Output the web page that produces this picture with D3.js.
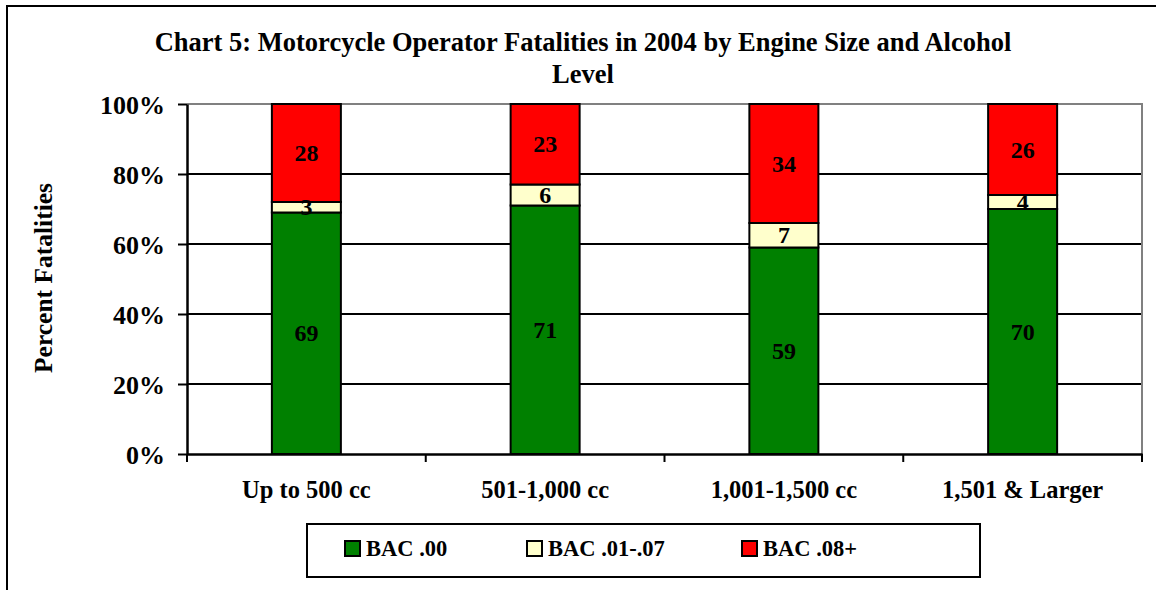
<!DOCTYPE html>
<html><head><meta charset="utf-8">
<script src="https://cdn.jsdelivr.net/npm/d3@7"></script>
<style>body{margin:0;background:#fff;}svg{display:block;font-family:"Liberation Serif","Times New Roman",serif;font-weight:bold;}</style>
</head><body><svg id="c" width="1156" height="590"></svg>
<script>
const categories = ["Up to 500 cc","501-1,000 cc","1,001-1,500 cc","1,501 & Larger"];
const seriesNames = ["BAC .00","BAC .01-.07","BAC .08+"];
const bac00 = [69,71,59,70];
const bac0107 = [3,6,7,4];
const bac08 = [28,23,34,26];
const yTicks = [0,20,40,60,80,100];
const colors = ["#008000","#FFFFCC","#FF0000"];
const titleLines = ["Chart 5: Motorcycle Operator Fatalities in 2004 by Engine Size and Alcohol","Level"];

const svg = d3.select("#c");
svg.append("rect").attr("x",7).attr("y",6).attr("width",1160).attr("height",600)
  .attr("fill","#fff").attr("stroke","#000").attr("stroke-width",2);

const L=187,R=1142,T=104,B=454;
const x = d3.scaleBand().domain(categories).range([L,R]).paddingInner(0).paddingOuter(0);
const y = d3.scaleLinear().domain([0,100]).range([B,T]);
const barW = 69;

// gridlines
svg.append("g").selectAll("line").data(yTicks.filter(d=>d>0&&d<100)).join("line")
  .attr("x1",L).attr("x2",R).attr("y1",d=>y(d)).attr("y2",d=>y(d))
  .attr("stroke","#000").attr("stroke-width",2);
// plot border top/right gray
svg.append("path").attr("d",`M${L},${y(100)}H${R}V${B}`).attr("fill","none")
  .attr("stroke","#808080").attr("stroke-width",2);

// stacked data
const rows = categories.map((c,i)=>({cat:c,s0:bac00[i],s1:bac0107[i],s2:bac08[i]}));
const stack = d3.stack().keys(["s0","s1","s2"])(rows);
const g = svg.append("g");
stack.forEach((layer,k)=>{
  g.selectAll(null).data(layer).join("rect")
    .attr("x",d=>x(d.data.cat)+x.bandwidth()/2-barW/2)
    .attr("width",barW)
    .attr("y",d=>y(d[1]))
    .attr("height",d=>y(d[0])-y(d[1]))
    .attr("fill",colors[k]).attr("stroke","#000").attr("stroke-width",2);
});
stack.forEach((layer,k)=>{
  g.selectAll(null).data(layer).join("text")
    .attr("x",d=>x(d.data.cat)+x.bandwidth()/2)
    .attr("y",d=>(y(d[0])+y(d[1]))/2+8)
    .attr("text-anchor","middle").attr("font-size",24)
    .text(d=>d[1]-d[0]);
});

// y axis
const yAxis = svg.append("g").attr("transform",`translate(${L},0)`)
  .call(d3.axisLeft(y).tickValues(yTicks).tickSize(9).tickSizeOuter(0).tickFormat(d=>d+"%"));
yAxis.attr("font-family",null).attr("font-size",null);
yAxis.select(".domain").attr("stroke","#000").attr("stroke-width",2.5);
yAxis.selectAll(".tick line").attr("stroke","#000").attr("stroke-width",2);
yAxis.selectAll(".tick text").attr("font-size",26).attr("x",-22).attr("dy","0.36em").attr("fill","#000");

// x axis
const xAxis = svg.append("g").attr("transform",`translate(0,${B})`)
  .call(d3.axisBottom(x).tickSize(0).tickSizeOuter(0));
xAxis.attr("font-family",null).attr("font-size",null);
xAxis.select(".domain").attr("stroke","#000").attr("stroke-width",2.5);
xAxis.selectAll(".tick text").attr("font-size",24.5).attr("y",44).attr("dy",0).attr("fill","#000");
const bounds = categories.map(c=>x(c)).concat([x(categories[categories.length-1])+x.bandwidth()]);
xAxis.selectAll(".bt").data(bounds).join("line").attr("class","bt")
  .attr("x1",d=>d).attr("x2",d=>d).attr("y1",0).attr("y2",8)
  .attr("stroke","#000").attr("stroke-width",2);

// title
svg.append("g").selectAll("text").data(titleLines).join("text")
  .attr("x",583).attr("y",(d,i)=>51+i*32).attr("text-anchor","middle").attr("font-size",26.5).text(d=>d);

// y label
svg.append("text").attr("transform","translate(52,278) rotate(-90)").attr("text-anchor","middle")
  .attr("font-size",25.5).text("Percent Fatalities");

// legend
svg.append("rect").attr("x",307).attr("y",524).attr("width",673).attr("height",53)
  .attr("fill","#fff").attr("stroke","#000").attr("stroke-width",2);
const legX = [345,527,742];
const lg = svg.append("g").selectAll("g").data(seriesNames).join("g")
  .attr("transform",(d,i)=>`translate(${legX[i]},541)`);
lg.append("rect").attr("width",15).attr("height",15).attr("fill",(d,i)=>colors[i]).attr("stroke","#000").attr("stroke-width",2);
lg.append("text").attr("x",21).attr("y",15).attr("font-size",22.5).text(d=>d);
</script></body></html>
